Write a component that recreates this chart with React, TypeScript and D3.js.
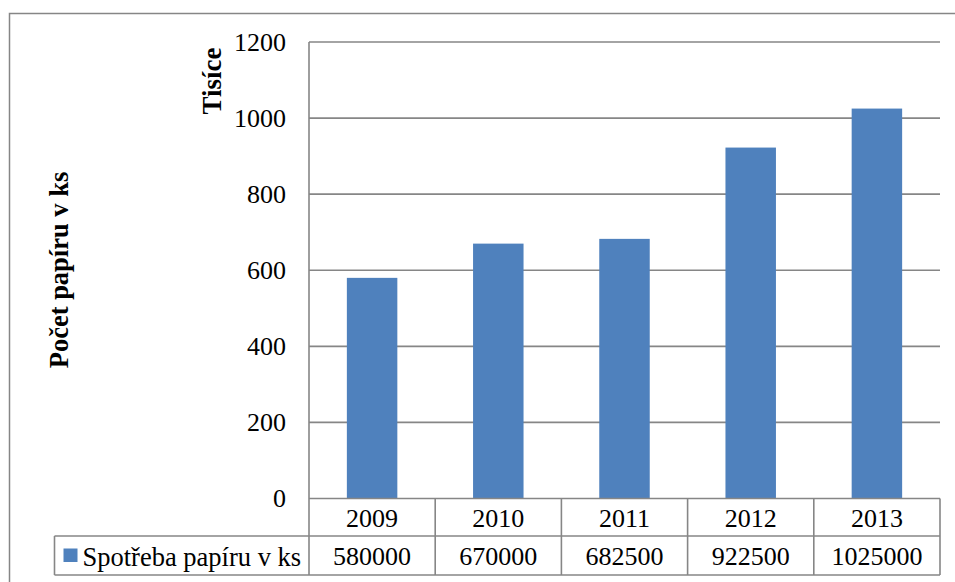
import React from "react";
import * as d3 from "d3";

const categories = ["2009", "2010", "2011", "2012", "2013"];
const values = [580000, 670000, 682500, 922500, 1025000];
const yTicks = [0, 200, 400, 600, 800, 1000, 1200];
const seriesName = "Spotřeba papíru v ks";
const yTitle = "Počet papíru v ks";
const unitTitle = "Tisíce";

const W = 955;
const H = 582;
const plotLeft = 309;
const plotRight = 940;
const plotTop = 42;
const plotBottom = 498.5;
const row1Bottom = 536;
const row2Bottom = 575;
const legendLeft = 54.5;
const FONT = "Liberation Serif, Tinos, Times New Roman, Times, DejaVu Serif, serif";
const GRID = "#868686";
const BAR = "#4F81BD";

const txt = { fontFamily: FONT } as React.CSSProperties;

export default function App() {
  const x = d3.scaleBand<string>().domain(categories).range([plotLeft, plotRight]).paddingInner(0.6).paddingOuter(0.3);
  const band = d3.scaleBand<string>().domain(categories).range([plotLeft, plotRight]);
  const y = d3.scaleLinear().domain([0, 1200]).range([plotBottom, plotTop]);

  return (
    <div style={{ position: "absolute", left: 0, top: 0 }}>
      <svg width={W} height={H} style={{ display: "block", background: "#fff" }}>
        <rect x={9.5} y={13.5} width={W + 20} height={H + 20} fill="#fff" stroke={GRID} strokeWidth={1.5} />
        {yTicks.map((t) => (
          <g key={t}>
            {t > 0 && <line x1={plotLeft} x2={plotRight} y1={y(t)} y2={y(t)} stroke={GRID} strokeWidth={1.6} />}
            <text x={286} y={y(t)} textAnchor="end" dominantBaseline="central" style={txt} fontSize={26} fill="#000">
              {t}
            </text>
          </g>
        ))}
        {categories.map((c, i) => (
          <rect key={c} x={x(c)} y={y(values[i] / 1000)} width={x.bandwidth()} height={plotBottom - y(values[i] / 1000)} fill={BAR} />
        ))}
        <line x1={plotLeft} x2={plotLeft} y1={plotTop} y2={row2Bottom} stroke={GRID} strokeWidth={1.6} />
        <line x1={plotLeft} x2={plotRight} y1={plotBottom} y2={plotBottom} stroke={GRID} strokeWidth={1.6} />
        <line x1={legendLeft} x2={plotRight} y1={row1Bottom} y2={row1Bottom} stroke={GRID} strokeWidth={1.6} />
        <line x1={legendLeft} x2={plotRight} y1={row2Bottom} y2={row2Bottom} stroke={GRID} strokeWidth={1.6} />
        <line x1={legendLeft} x2={legendLeft} y1={row1Bottom} y2={row2Bottom} stroke={GRID} strokeWidth={1.6} />
        {categories.map((c) => (
          <line key={"b" + c} x1={(band(c) as number) + band.bandwidth()} x2={(band(c) as number) + band.bandwidth()} y1={plotBottom} y2={row2Bottom} stroke={GRID} strokeWidth={1.6} />
        ))}
        {categories.map((c, i) => (
          <g key={"t" + c}>
            <text x={(band(c) as number) + band.bandwidth() / 2} y={(plotBottom + row1Bottom) / 2 + 1} textAnchor="middle" dominantBaseline="central" style={txt} fontSize={26} fill="#000">
              {c}
            </text>
            <text x={(band(c) as number) + band.bandwidth() / 2} y={(row1Bottom + row2Bottom) / 2 + 1} textAnchor="middle" dominantBaseline="central" style={txt} fontSize={26} fill="#000">
              {values[i]}
            </text>
          </g>
        ))}
        <rect x={63.5} y={548.5} width={14} height={13.5} fill={BAR} />
        <text x={82.5} y={(row1Bottom + row2Bottom) / 2 + 1} dominantBaseline="central" style={txt} fontSize={26.5} fill="#000">
          {seriesName}
        </text>
        <text transform={`translate(212,81) rotate(-90)`} textAnchor="middle" dominantBaseline="central" style={txt} fontSize={27} fontWeight="bold" fill="#000">
          {unitTitle}
        </text>
        <text transform={`translate(59,270) rotate(-90)`} textAnchor="middle" dominantBaseline="central" style={txt} fontSize={26.5} fontWeight="bold" fill="#000">
          {yTitle}
        </text>
      </svg>
    </div>
  );
}
